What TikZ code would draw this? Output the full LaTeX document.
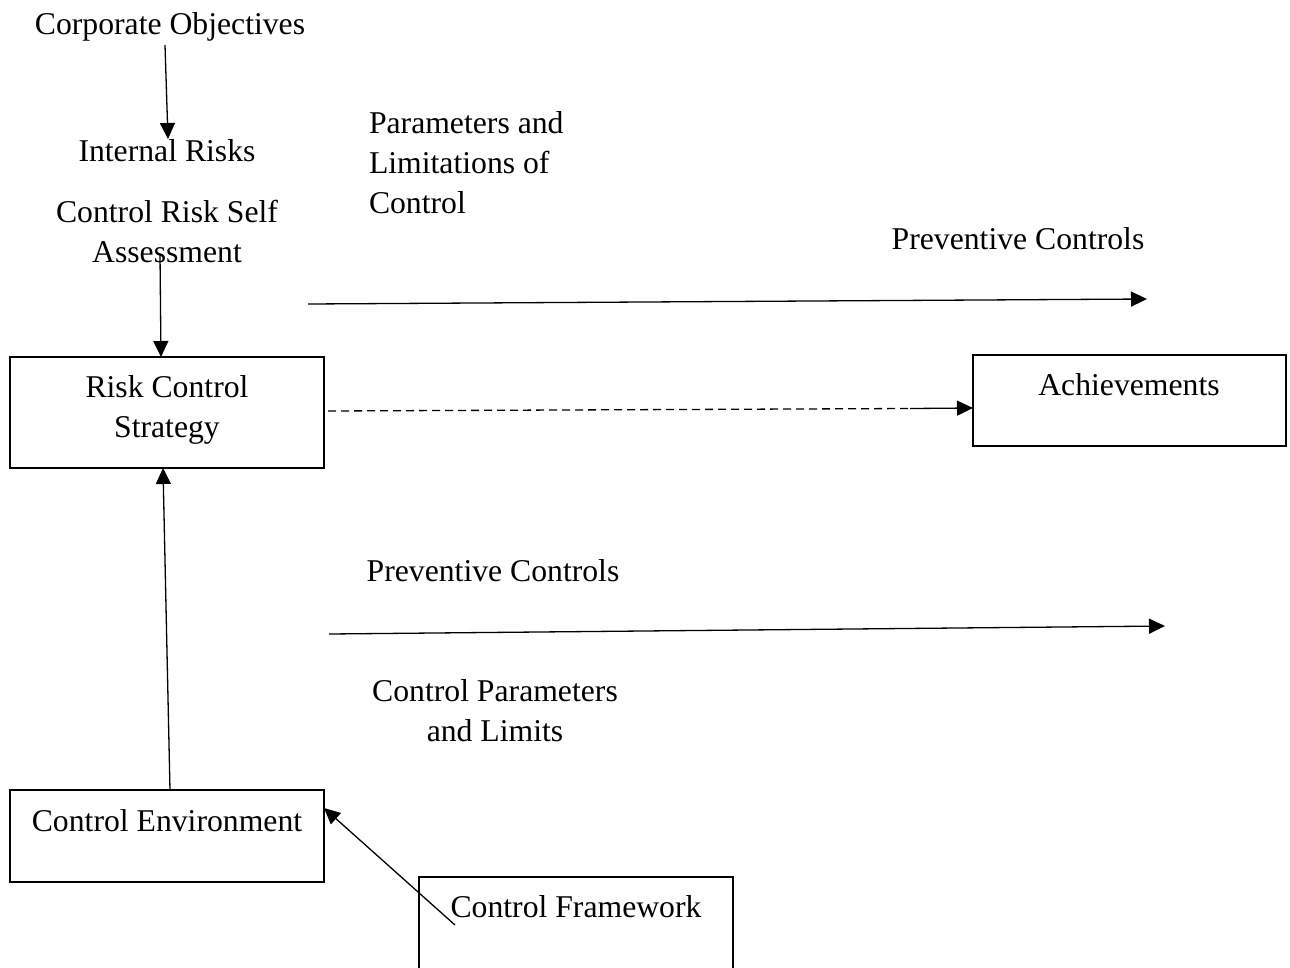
\documentclass[tikz,border=0pt]{standalone}
\usepackage{fontspec}
\setmainfont{Liberation Serif}
\usetikzlibrary{arrows.meta}
\begin{document}
\begin{tikzpicture}[x=1pt,y=-1pt,
  every node/.style={inner sep=0pt, outer sep=0pt, font=\fontsize{31.7}{40}\selectfont},
  txt/.style={anchor=base, align=center},
  box/.style={draw, line width=1.3pt, minimum width=314pt},
  conn/.style={line width=1.3pt, -{Triangle[length=16pt,width=15pt]}},
]
\useasboundingbox (0,0) rectangle (1290,967);
\clip (0,0) rectangle (1290,967);

% boxes
\node[box, minimum height=111pt] (rcs) at (167,412.5) {};
\node[box, minimum width=313pt, minimum height=91pt] (ach) at (1129.5,400.5) {};
\node[box, minimum height=92pt] (ce) at (167,836) {};
\node[box, minimum height=100pt] (cf) at (576,927) {};

% texts (base anchor of a multi-line node is its last line)
\node[txt] (co) at (170,34) {Corporate Objectives};
\node[txt] (ir) at (167,161) {Internal Risks};
\node[txt] (crsa) at (167,262) {Control Risk Self\\Assessment};
\node[anchor=base west, align=left] (plc) at (369,213) {Parameters and\\Limitations of\\Control};
\node[txt] (pc1) at (1018,249) {Preventive Controls};
\node[txt] (rcsT) at (167,437) {Risk Control\\Strategy};
\node[txt] (achT) at (1129,395) {Achievements};
\node[txt] (pc2) at (493,581) {Preventive Controls};
\node[txt] (cpl) at (495,741) {Control Parameters\\and Limits};
\node[txt] (ceT) at (167,831) {Control Environment};
\node[txt] (cfT) at (576,917) {Control Framework};

% free ends of the horizontal flows
\coordinate (a1s) at (308,304);
\coordinate (a1e) at (1147,299);
\coordinate (a2s) at (329,634);
\coordinate (a2e) at (1165,626);
\coordinate (cfs) at (455,925);
\coordinate (dsolid) at (910,408.5);

% connectors
\draw[conn] (165,45) -- ([xshift=1pt]ir.north);
\draw[conn] ([xshift=-7pt,yshift=8pt]crsa.south) -- ([xshift=-6pt]rcs.north);
\draw[conn] (a1s) -- (a1e);
\draw[line width=1.3pt, dash pattern=on 8pt off 5pt] ([xshift=4pt,yshift=1.5pt]rcs.east) -- (dsolid);
\draw[conn] (dsolid) -- ([yshift=-7.5pt]ach.west);
\draw[conn] (a2s) -- (a2e);
\draw[conn] ([xshift=3pt]ce.north) -- ([xshift=-4pt]rcs.south);
\draw[conn] (cfs) -- ([yshift=28pt]ce.east);
\end{tikzpicture}
\end{document}
